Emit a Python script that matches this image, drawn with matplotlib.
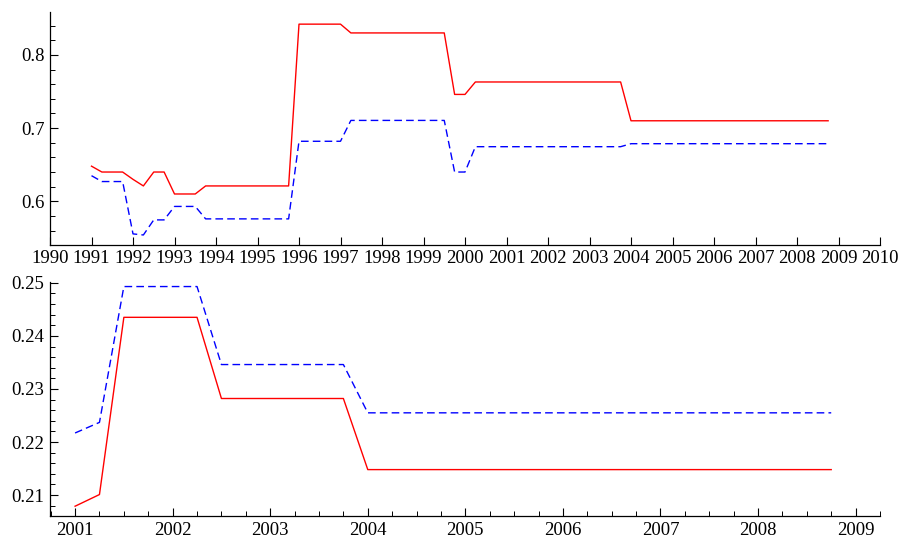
import numpy as np
import matplotlib
matplotlib.use('Agg')
import matplotlib.pyplot as plt
from matplotlib.ticker import MultipleLocator

plt.rcParams['font.family'] = ['Liberation Serif', 'DejaVu Serif']

# top panel: 1991 - 2008.75
t_top = [1991, 1991.25, 1991.75, 1992, 1992.25, 1992.5, 1992.75, 1993, 1993.5,
         1993.75, 1995.75, 1996, 1997, 1997.25, 1999.5, 1999.75, 2000, 2000.25,
         2003.75, 2004, 2008.75]
red_top = [0.648, 0.640, 0.640, 0.630, 0.621, 0.640, 0.640, 0.610, 0.610,
           0.621, 0.621, 0.842, 0.842, 0.830, 0.830, 0.746, 0.746, 0.763,
           0.763, 0.710, 0.710]
blue_top = [0.635, 0.627, 0.627, 0.5555, 0.554, 0.5746, 0.5746, 0.593, 0.593,
            0.576, 0.576, 0.682, 0.682, 0.7105, 0.7105, 0.640, 0.640, 0.6746,
            0.6746, 0.6787, 0.6787]

# bottom panel: 2001 - 2008.75
t_bot = [2001, 2001.25, 2001.5, 2002.25, 2002.5, 2003.75, 2004, 2008.75]
red_bot = [0.2079, 0.2101, 0.2435, 0.2435, 0.2282, 0.2282, 0.2148, 0.2148]
blue_bot = [0.2217, 0.2237, 0.2493, 0.2493, 0.2346, 0.2346, 0.2255, 0.2255]

fig = plt.figure(figsize=(9.01, 5.38), dpi=100)
ax1 = fig.add_axes([50/901, 1 - 244.5/538, 830/901, (244.5 - 11.7)/538])
ax2 = fig.add_axes([50/901, 1 - 516.3/538, 830/901, (516.3 - 282.3)/538])

ax1.plot(t_top, red_top, color='#ff0000', lw=1.0)
ax1.plot(t_top, blue_top, color='#0000ff', lw=1.0, dashes=(5.5, 3))
ax2.plot(t_bot, red_bot, color='#ff0000', lw=1.0)
ax2.plot(t_bot, blue_bot, color='#0000ff', lw=1.0, dashes=(5.5, 3))

ax1.set_xlim(1990, 2010)
ax1.set_ylim(0.541, 0.859)
ax1.set_xticks(range(1990, 2011))
ax1.yaxis.set_major_locator(MultipleLocator(0.1))
ax1.yaxis.set_minor_locator(MultipleLocator(0.02))
ax1.yaxis.set_major_formatter(lambda v, p: '%g' % round(v, 2))

ax2.set_xlim(2000.743, 2009.25)
ax2.set_ylim(0.2060, 0.2501)
ax2.set_xticks(range(2001, 2010))
ax2.xaxis.set_minor_locator(MultipleLocator(0.25))
ax2.yaxis.set_major_locator(MultipleLocator(0.01))
ax2.yaxis.set_minor_locator(MultipleLocator(0.002))
ax2.yaxis.set_major_formatter(lambda v, p: '%g' % round(v, 3))

for ax in (ax1, ax2):
    ax.spines['top'].set_visible(False)
    ax.spines['right'].set_visible(False)
    for s in ('left', 'bottom'):
        ax.spines[s].set_linewidth(0.9)
    ax.tick_params(which='major', direction='in', length=6, width=0.8,
                   labelsize=13.5, pad=4)
    ax.tick_params(which='minor', direction='in', length=3.5, width=0.7)

plt.savefig('out.png', dpi=100)
